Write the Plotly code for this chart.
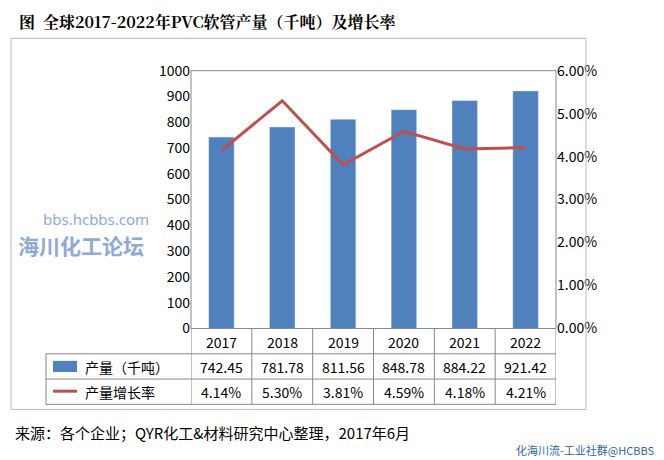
import plotly.graph_objects as go

years = ["2017", "2018", "2019", "2020", "2021", "2022"]
output = [742.45, 781.78, 811.56, 848.78, 884.22, 921.42]
growth = [0.0414, 0.0530, 0.0381, 0.0459, 0.0418, 0.0421]
output_labels = ["742.45", "781.78", "811.56", "848.78", "884.22", "921.42"]
growth_labels = ["4.14%", "5.30%", "3.81%", "4.59%", "4.18%", "4.21%"]

W, H = 664, 460
def px(x): return (x - 7) / W
def py(y): return 1 - ((y - 18.9) / 0.946) / H

fig = go.Figure()
fig.add_bar(x=list(range(6)), y=output, marker_color="#4F81BD", width=0.42, showlegend=False)
fig.add_scatter(x=list(range(6)), y=growth, yaxis="y2", mode="lines",
                line=dict(color="#C0504D", width=3), showlegend=False)

font = dict(family="Noto Sans CJK SC", size=14, color="#000")
fig.update_layout(
    width=W, height=H, margin=dict(l=0, r=0, t=0, b=0),
    paper_bgcolor="white", plot_bgcolor="white",
    xaxis=dict(domain=[px(190), px(555)], range=[-0.5, 5.5], showticklabels=False,
               showgrid=False, zeroline=False, showline=False),
    yaxis=dict(domain=[py(325), py(70)], range=[0, 1000], dtick=100, showgrid=False,
               tickfont=font, ticks="", showline=False, zeroline=False),
    yaxis2=dict(overlaying="y", side="right", range=[0, 0.06], dtick=0.01, tickformat=".2%",
                tickfont=font, showgrid=False, zeroline=False, showline=False),
)

shapes = []
shapes.append(dict(type="rect", xref="paper", yref="paper", x0=px(10), x1=px(585),
                   y0=py(405), y1=py(38), line=dict(color="#bbb", width=1)))
shapes.append(dict(type="rect", xref="paper", yref="paper", x0=px(190), x1=px(555),
                   y0=py(325), y1=py(70), line=dict(color="#888", width=1)))
for yy in [350, 375, 400]:
    shapes.append(dict(type="line", xref="paper", yref="paper", x0=px(45), x1=px(555),
                       y0=py(yy), y1=py(yy), line=dict(color="#888", width=1)))
shapes.append(dict(type="line", xref="paper", yref="paper", x0=px(45), x1=px(45),
                   y0=py(350), y1=py(400), line=dict(color="#888", width=1)))
for i in range(7):
    shapes.append(dict(type="line", xref="x", yref="paper", x0=i - 0.5, x1=i - 0.5,
                       y0=py(400), y1=py(325), line=dict(color="#888", width=1)))
shapes.append(dict(type="rect", xref="paper", yref="paper", x0=px(52), x1=px(76),
                   y0=py(368), y1=py(357), fillcolor="#4F81BD", line=dict(width=0)))
shapes.append(dict(type="line", xref="paper", yref="paper", x0=px(52), x1=px(76),
                   y0=py(387), y1=py(387), line=dict(color="#C0504D", width=3)))
fig.update_layout(shapes=shapes)

ann = []
def A(**k):
    k.setdefault("xref", "paper"); k.setdefault("yref", "paper")
    k.setdefault("showarrow", False); k.setdefault("yanchor", "middle")
    k.setdefault("xanchor", "center"); k.setdefault("font", font)
    ann.append(k)

for i, y in enumerate(years):
    A(x=i, xref="x", y=py(338), text=y)
    A(x=i, xref="x", y=py(363), text=output_labels[i])
    A(x=i, xref="x", y=py(388), text=growth_labels[i])
A(x=px(82), y=py(363), xanchor="left", text="产量（千吨）")
A(x=px(82), y=py(388), xanchor="left", text="产量增长率")
A(x=px(16), y=py(21), xanchor="left", text="<b>图  全球2017-2022年PVC软管产量（千吨）及增长率</b>",
  font=dict(family="Noto Serif CJK SC, Noto Sans CJK SC", size=16, color="#000"))
A(x=px(12), y=py(428), xanchor="left", text="来源：各个企业；QYR化工&材料研究中心整理，2017年6月",
  font=dict(family="Noto Sans CJK SC", size=15, color="#000"))
A(x=px(656), y=py(445), xanchor="right", text="化海川流-工业社群@HCBBS",
  font=dict(family="Noto Sans CJK SC", size=11, color="#2e5fa8"))
A(x=px(95), y=py(217), text="bbs.hcbbs.com", font=dict(family="Noto Sans", size=15, color="#8fa9d8"))
A(x=px(80), y=py(242), text="<b>海川化工论坛</b>", font=dict(family="Noto Sans CJK SC", size=21, color="#8fa9d8"))
fig.update_layout(annotations=ann)

fig.write_html("out.html")
